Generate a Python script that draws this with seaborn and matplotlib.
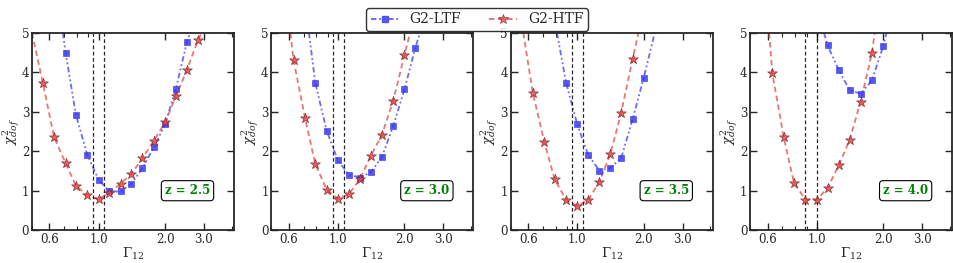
import numpy as np
import pandas as pd
import matplotlib
matplotlib.use("Agg")
import matplotlib.pyplot as plt
import seaborn as sns
from matplotlib.lines import Line2D
from matplotlib.ticker import FixedLocator, FixedFormatter, LogLocator, NullFormatter

# valores
redshifts = ["z = 2.5", "z = 3.0", "z = 3.5", "z = 4.0"]

# G2-LTF (quadrados azuis)
ltf_x = [
    [0.71, 0.79, 0.89, 1.0, 1.12, 1.26, 1.41, 1.58, 1.78, 2.0, 2.24, 2.51],
    [0.79, 0.89, 1.0, 1.12, 1.26, 1.41, 1.58, 1.78, 2.0, 2.24],
    [0.89, 1.0, 1.12, 1.26, 1.41, 1.58, 1.78, 2.0],
    [1.12, 1.26, 1.41, 1.58, 1.78, 2.0],
]
ltf_y = [
    [4.50, 2.93, 1.91, 1.28, 0.98, 0.98, 1.18, 1.57, 2.10, 2.68, 3.59, 4.76],
    [3.74, 2.52, 1.77, 1.41, 1.33, 1.47, 1.85, 2.64, 3.57, 4.62],
    [3.74, 2.68, 1.91, 1.51, 1.58, 1.83, 2.81, 3.87],
    [4.69, 4.06, 3.55, 3.46, 3.80, 4.66],
]
# onde a curva sai pelo topo (y = 5)
ltf_ends = [(0.69, 2.59), (0.74, 2.35), (0.81, 2.24), (1.08, 2.07)]

# G2-HTF (estrelas vermelhas)
htf_x = [
    [0.56, 0.63, 0.71, 0.79, 0.89, 1.0, 1.12, 1.26, 1.41, 1.58, 1.78, 2.0, 2.24, 2.51, 2.82],
    [0.63, 0.71, 0.79, 0.89, 1.0, 1.12, 1.26, 1.41, 1.58, 1.78, 2.0],
    [0.63, 0.71, 0.79, 0.89, 1.0, 1.12, 1.26, 1.41, 1.58, 1.78],
    [0.63, 0.71, 0.79, 0.89, 1.0, 1.12, 1.26, 1.41, 1.58, 1.78],
]
htf_y = [
    [3.74, 2.35, 1.70, 1.13, 0.88, 0.78, 0.95, 1.18, 1.43, 1.82, 2.27, 2.73, 3.40, 4.06, 4.83],
    [4.32, 2.85, 1.68, 1.03, 0.80, 0.91, 1.30, 1.89, 2.41, 3.28, 4.44],
    [3.47, 2.23, 1.29, 0.77, 0.61, 0.76, 1.23, 1.92, 2.98, 4.34],
    [3.99, 2.35, 1.20, 0.77, 0.76, 1.07, 1.64, 2.29, 3.25, 4.50],
]
htf_ends = [(0.50, 2.93), (0.61, 2.12), (0.57, 1.89), (0.61, 1.83)]

# linhas verticais tracejadas
vlines = [(0.94, 1.06), (0.95, 1.07), (0.95, 1.06), (0.89, 1.0)]

sns.set_style("ticks")
plt.rcParams["font.family"] = ["DejaVu Serif"]
plt.rcParams["mathtext.fontset"] = "dejavuserif"
plt.rcParams["axes.linewidth"] = 1.3

cor_ltf = "#3a3af0"
cor_htf = "#e84545"
ls_ltf = (0, (3, 1.5, 1, 1.5, 1, 1.5))
ls_htf = (0, (3, 2))

fig, axes = plt.subplots(1, 4, figsize=(9.54, 2.63), dpi=100)
fig.subplots_adjust(left=0.0335, right=0.998, bottom=0.125, top=0.8745, wspace=0.185)

for i, ax in enumerate(axes):
    lx = [ltf_ends[i][0]] + ltf_x[i] + [ltf_ends[i][1]]
    ly = [5.0] + ltf_y[i] + [5.0]
    hx = [htf_ends[i][0]] + htf_x[i] + [htf_ends[i][1]]
    hy = [5.0] + htf_y[i] + [5.0]

    sns.lineplot(x=lx, y=ly, ax=ax, color=cor_ltf, alpha=0.75, lw=1.3,
                 linestyle=ls_ltf, sort=False)
    sns.lineplot(x=hx, y=hy, ax=ax, color=cor_htf, alpha=0.75, lw=1.3,
                 linestyle=ls_htf, sort=False)
    sns.scatterplot(x=ltf_x[i], y=ltf_y[i], ax=ax, marker="s", s=14,
                    color=cor_ltf, alpha=0.85, edgecolor=cor_ltf, linewidth=0.5, zorder=3)
    sns.scatterplot(x=htf_x[i], y=htf_y[i], ax=ax, marker="*", s=55,
                    color=cor_htf, alpha=0.85, edgecolor="#7a2020", linewidth=0.5, zorder=4)

    for v in vlines[i]:
        ax.axvline(v, color="black", ls=(0, (3, 2)), lw=0.9, alpha=0.85, zorder=2)

    ax.set_xscale("log")
    ax.set_xlim(0.5, 4.1)
    ax.set_ylim(0, 5)
    ax.xaxis.set_major_locator(FixedLocator([0.6, 1.0, 2.0, 3.0]))
    ax.xaxis.set_major_formatter(FixedFormatter(["0.6", "1.0", "2.0", "3.0"]))
    ax.xaxis.set_minor_locator(LogLocator(base=10, subs=np.arange(2, 10) * 1.0))
    ax.xaxis.set_minor_formatter(NullFormatter())
    ax.set_yticks([0, 1, 2, 3, 4, 5])
    ax.tick_params(which="both", direction="in", top=True, right=True, labelsize=8.5, pad=2)
    ax.tick_params(which="major", length=5, width=1.0)
    ax.tick_params(which="minor", length=3, width=0.8)
    ax.set_xlabel(r"$\Gamma_{12}$", fontsize=9.5, labelpad=0)
    ax.set_ylabel(r"$\chi^2_{dof}$", fontsize=9.5, labelpad=0)

    ax.text(0.77, 0.20, redshifts[i], transform=ax.transAxes, ha="center", va="center",
            fontsize=8.5, fontweight="bold", color="green",
            bbox=dict(boxstyle="round,pad=0.3", fc="white", ec="black", lw=0.8))

handles = [
    Line2D([], [], color=cor_ltf, alpha=0.8, marker="s", markersize=4,
           linestyle=ls_ltf, lw=1.3),
    Line2D([], [], color=cor_htf, alpha=0.8, marker="*", markersize=7,
           markeredgecolor="#7a2020", markeredgewidth=0.5, linestyle=ls_htf, lw=1.3),
]
fig.legend(handles, ["G2-LTF", "G2-HTF"], loc="upper center", bbox_to_anchor=(0.5, 0.995),
           ncol=2, fontsize=10, frameon=True, fancybox=True, edgecolor="black",
           handlelength=2.0, columnspacing=2.0, borderpad=0.3)

fig.savefig("out.png", dpi=100)
